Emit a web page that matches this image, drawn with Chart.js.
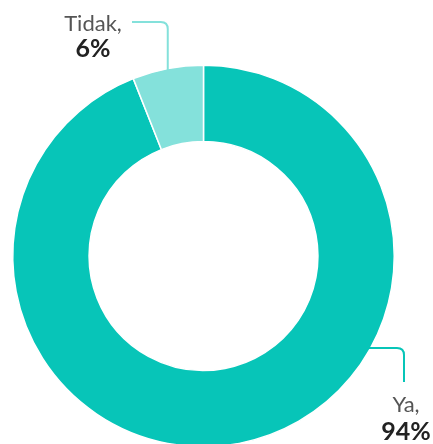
<!DOCTYPE html>
<html>
<head>
<meta charset="utf-8">
<script src="https://cdn.jsdelivr.net/npm/chart.js@4"></script>
<style>
    html, body { margin: 0; padding: 0; background: #ffffff; overflow: hidden; }
    #wrap { width: 433px; height: 444px; overflow: hidden; position: relative; }
</style>
</head>
<body>
<div id="wrap">
    <canvas id="donutChart" width="433" height="460"></canvas>
</div>
<script>
// Data
const labels = ['Ya', 'Tidak'];
const values = [94, 6];
const colors = ['#07c5b8', '#84e1db'];

// Label placement (leader line + text)
const calloutStyle = {
    Tidak: { side: 'top', lineY: 22, lineX0: 132, textX: 93, nameY: 31, valueY: 57 },
    Ya: { side: 'right', lineY: 348, lineX1: 404, lineBottom: 382, textX: 406, nameY: 412, valueY: 440 }
};

const calloutPlugin = {
    id: 'callouts',
    afterDatasetsDraw(chart) {
        const ctx = chart.ctx;
        const meta = chart.getDatasetMeta(0);
        const corner = 7;

        meta.data.forEach((arc, i) => {
            const name = labels[i];
            const cfg = calloutStyle[name];
            const cx = arc.x, cy = arc.y, r = arc.outerRadius;

            ctx.save();
            ctx.strokeStyle = colors[i];
            ctx.lineWidth = 2;
            ctx.beginPath();
            if (cfg.side === 'top') {
                // vertical line above the middle of the slice
                const mid = (arc.startAngle + arc.endAngle) / 2;
                const x = cx + r * Math.cos(mid);
                const yEdge = cy + r * Math.sin(mid);
                ctx.moveTo(cfg.lineX0, cfg.lineY);
                ctx.lineTo(x - corner, cfg.lineY);
                ctx.quadraticCurveTo(x, cfg.lineY, x, cfg.lineY + corner);
                ctx.lineTo(x, yEdge + 2);
            } else {
                // horizontal line leaving the ring edge
                const dy = cfg.lineY - cy;
                const xEdge = cx + Math.sqrt(r * r - dy * dy);
                ctx.moveTo(xEdge - 2, cfg.lineY);
                ctx.lineTo(cfg.lineX1 - corner, cfg.lineY);
                ctx.quadraticCurveTo(cfg.lineX1, cfg.lineY, cfg.lineX1, cfg.lineY + corner);
                ctx.lineTo(cfg.lineX1, cfg.lineBottom);
            }
            ctx.stroke();

            // texts
            ctx.textAlign = 'center';
            ctx.textBaseline = 'alphabetic';
            ctx.fillStyle = '#555555';
            ctx.font = '22px Lato, "Noto Sans", sans-serif';
            ctx.fillText(name + ',', cfg.textX, cfg.nameY);
            ctx.fillStyle = '#222222';
            ctx.font = 'bold 25px Lato, "Noto Sans", sans-serif';
            ctx.fillText(values[i] + '%', cfg.textX, cfg.valueY);
            ctx.restore();
        });
    }
};

const donutCtx = document.getElementById('donutChart').getContext('2d');
const donutChart = new Chart(donutCtx, {
    type: 'doughnut',
    data: {
        labels: labels,
        datasets: [{
            data: values,
            backgroundColor: colors,
            borderColor: '#ffffff',
            borderWidth: 1.5
        }]
    },
    options: {
        responsive: false,
        animation: false,
        cutout: '60%',
        layout: {
            padding: { left: 12, top: 64.5, right: 38, bottom: 12.5 }
        },
        plugins: {
            legend: { display: false },
            tooltip: { enabled: false }
        }
    },
    plugins: [calloutPlugin]
});
</script>
</body>
</html>
